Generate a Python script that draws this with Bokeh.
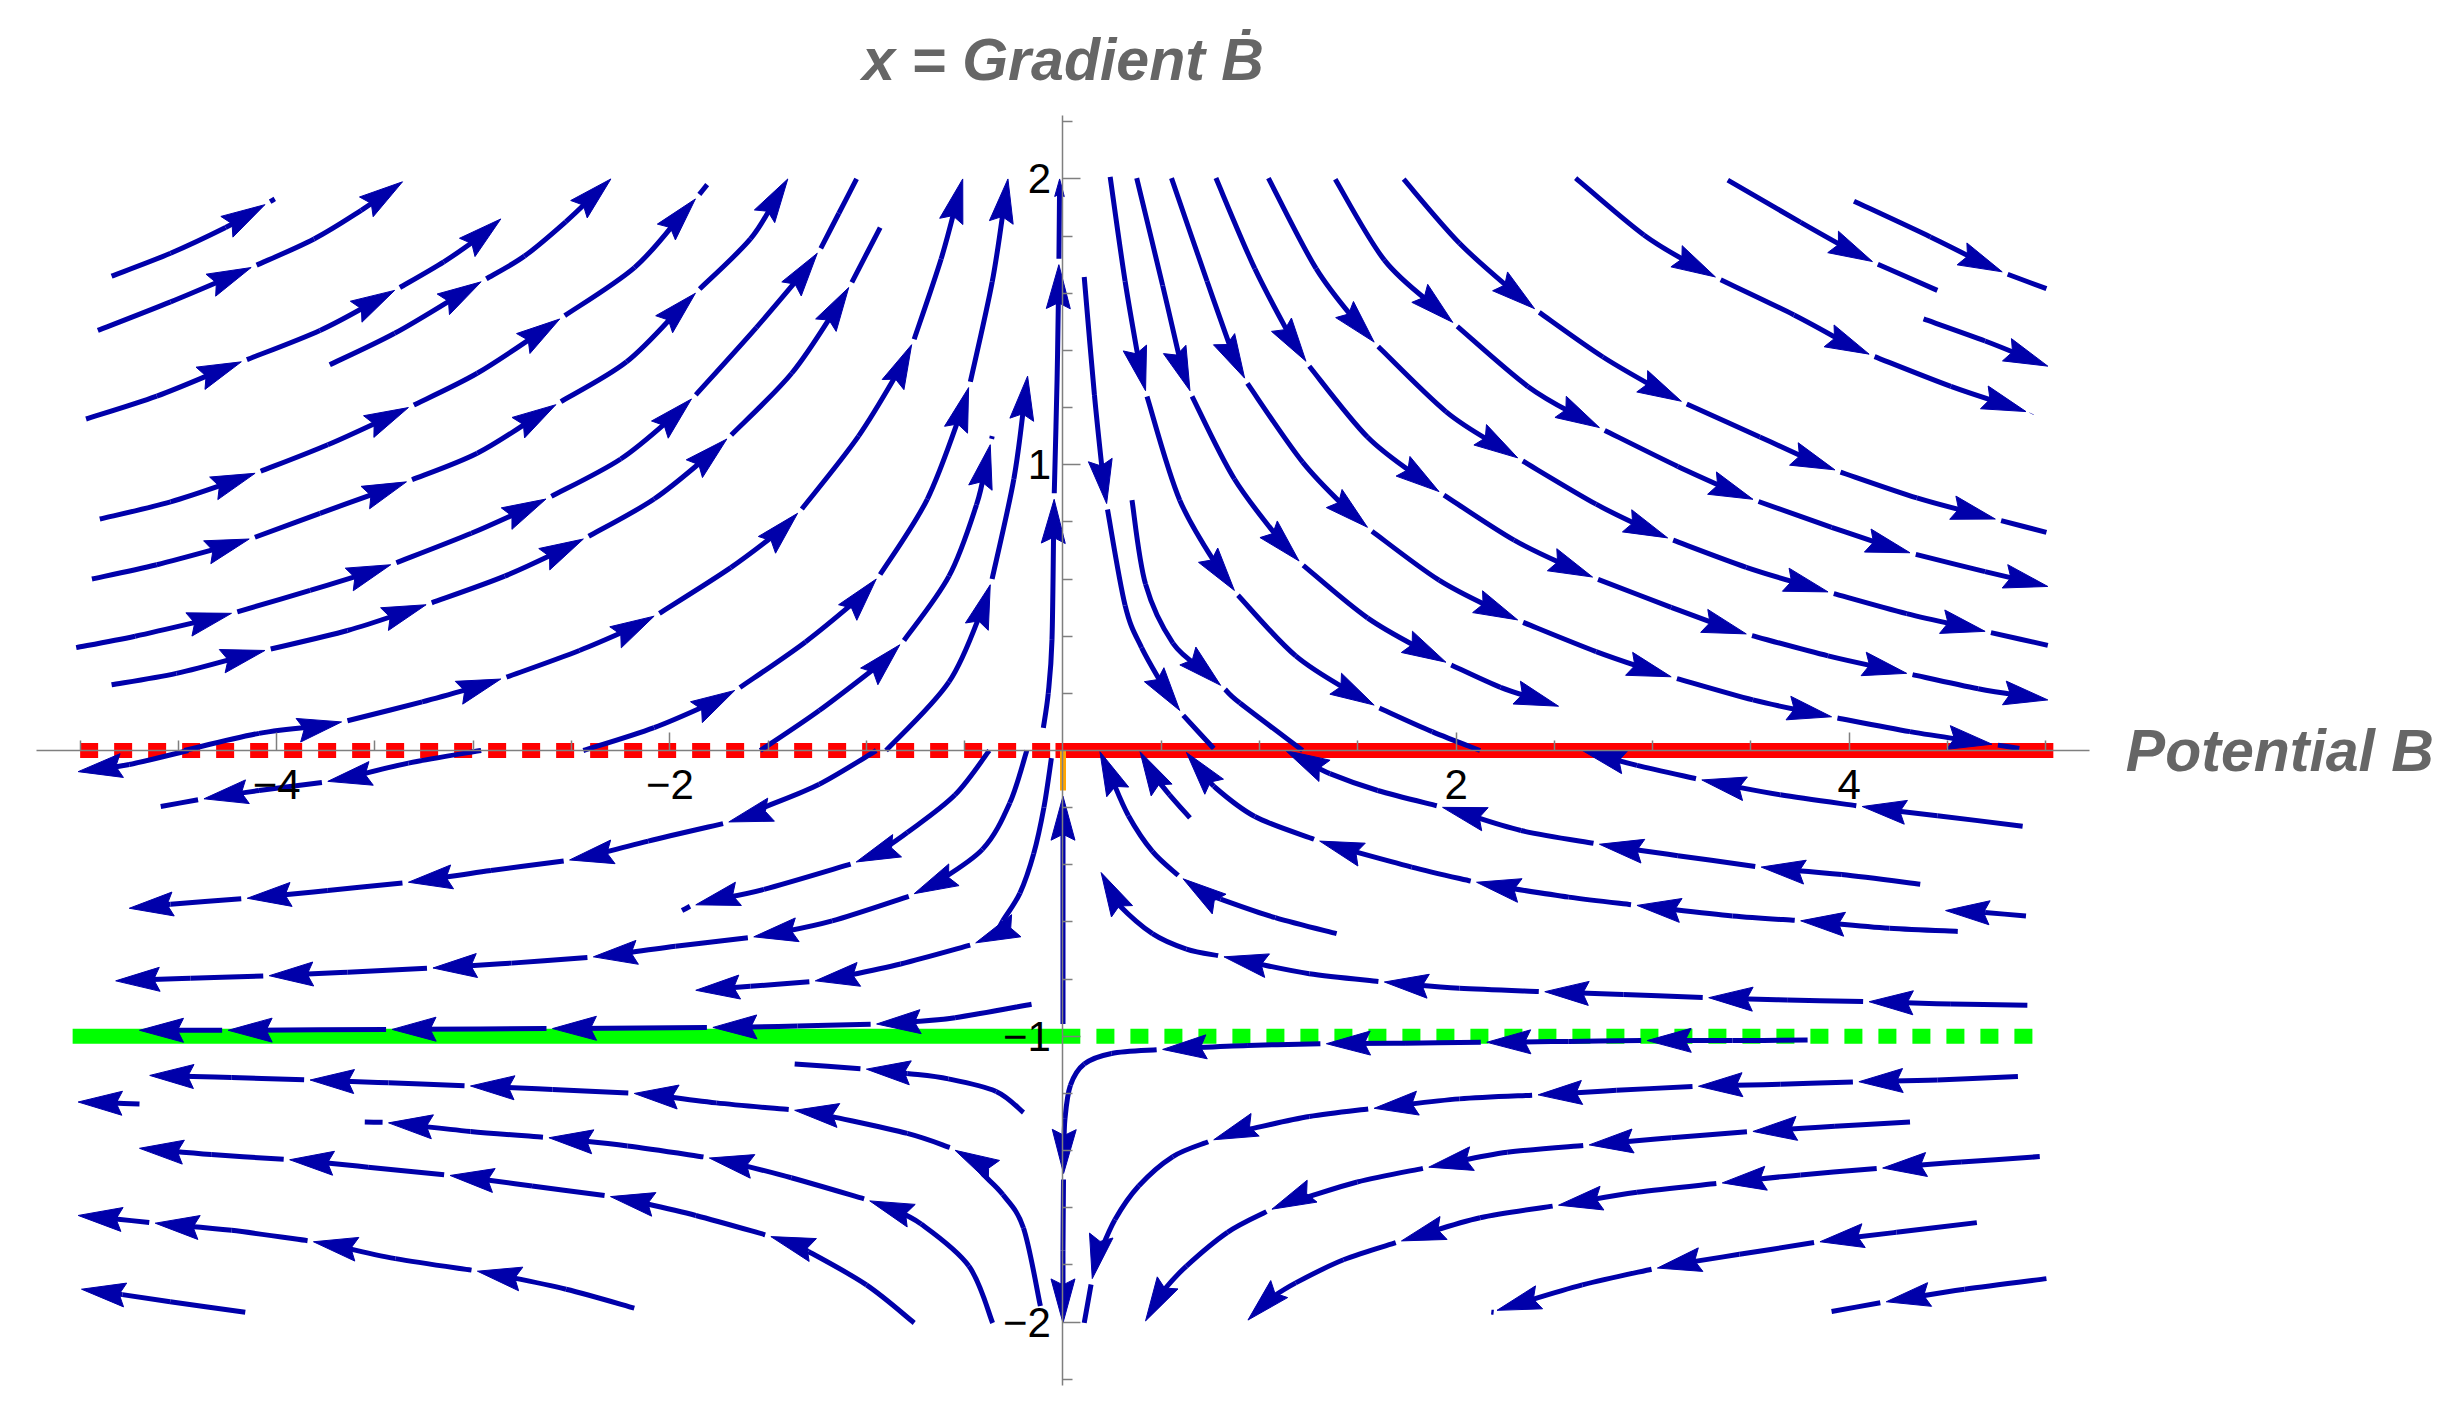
import math
from bokeh.plotting import figure
from bokeh.models import Range1d, FixedTicker, Label
from bokeh.embed import file_html
from bokeh.resources import INLINE

# ---------------- data ----------------
AXIS_B = (-5.222, 5.222)     # extent of the horizontal axis
AXIS_X = (-2.222, 2.222)     # extent of the vertical axis

x_major_ticks = [-4, -2, 2, 4]
x_major_labels = ["\u22124", "\u22122", "2", "4"]
x_minor_ticks = [-5, -4.5, -3.5, -3, -2.5, -1.5, -1, -0.5, 0.5, 1, 1.5, 2.5, 3, 3.5, 4.5, 5]
y_major_ticks = [-2, -1, 1, 2]
y_major_labels = ["\u22122", "\u22121", "1", "2"]
y_minor_ticks = [-2.2, -1.8, -1.6, -1.4, -1.2, -0.8, -0.6, -0.4, -0.2,
                 0.2, 0.4, 0.6, 0.8, 1.2, 1.4, 1.6, 1.8, 2.2]

title_text = "x = Gradient \u1E02"
xlabel_text = "Potential B"

red_level = 0.0
red_stable_B = [0.0, 5.0]
red_unstable_B = [-5.0, -0.02]
green_level = -1.0
green_stable_B = [-5.0, 0.05]
green_unstable_B = [0.17, 5.0]
orange_B = [0.0, 0.0]
orange_x = [0.0, -0.14]

# streamlines: (B, x, arrow) with arrow = relative arrowhead size at that vertex (0 = none)
stream_upper_left = [
    [(-4.84, 1.66, 0), (-4.54, 1.74, 0), (-4.26, 1.83, 0), (-4.06, 1.91, 1), (-4.01, 1.93, 0)],
    [(-4.91, 1.47, 0), (-4.54, 1.57, 0), (-4.13, 1.69, 1), (-3.81, 1.79, 0), (-3.57, 1.89, 0), (-3.36, 1.99, 1)],
    [(-4.97, 1.16, 0), (-4.61, 1.24, 0), (-4.18, 1.36, 1), (-3.78, 1.47, 0), (-3.40, 1.61, 1), (-3.15, 1.71, 0),
     (-2.98, 1.79, 0), (-2.86, 1.86, 1)],
    [(-3.73, 1.35, 0), (-3.40, 1.46, 0), (-2.96, 1.64, 1), (-2.74, 1.73, 0), (-2.53, 1.85, 0), (-2.30, 2.00, 1)],
    [(-4.90, 0.81, 0), (-4.54, 0.87, 0), (-4.11, 0.97, 1), (-3.74, 1.07, 0), (-3.33, 1.20, 1), (-2.98, 1.32, 0),
     (-2.56, 1.51, 1), (-2.18, 1.69, 0), (-1.87, 1.93, 1), (-1.81, 1.98, 0)],
    [(-4.94, 0.60, 0), (-4.61, 0.65, 0), (-4.14, 0.74, 1), (-3.78, 0.83, 0), (-3.34, 0.94, 1), (-2.98, 1.04, 0),
     (-2.58, 1.21, 1), (-2.22, 1.36, 0), (-1.87, 1.60, 1), (-1.59, 1.79, 0), (-1.40, 2.00, 1)],
    [(-5.02, 0.36, 0), (-4.72, 0.40, 0), (-4.23, 0.48, 1), (-3.83, 0.56, 0), (-3.42, 0.65, 1), (-3.01, 0.76, 0),
     (-2.63, 0.88, 1), (-2.25, 1.02, 0), (-1.89, 1.23, 1), (-1.56, 1.48, 0), (-1.25, 1.74, 1), (-1.14, 1.88, 0),
     (-1.05, 2.00, 0)],
    [(-4.84, 0.23, 0), (-4.51, 0.27, 0), (-4.06, 0.35, 1), (-3.64, 0.42, 0), (-3.24, 0.51, 1), (-2.84, 0.61, 0),
     (-2.44, 0.74, 1), (-2.08, 0.88, 0), (-1.71, 1.09, 1), (-1.38, 1.32, 0), (-1.09, 1.62, 1), (-0.93, 1.83, 0)],
    [(-4.47, 0.00, 0), (-4.09, 0.06, 0), (-3.67, 0.10, 1), (-3.26, 0.17, 0), (-2.86, 0.25, 1), (-2.46, 0.35, 0),
     (-2.08, 0.47, 1), (-1.69, 0.64, 0), (-1.35, 0.83, 1), (-1.04, 1.10, 0), (-0.77, 1.42, 1), (-0.62, 1.72, 0),
     (-0.51, 2.00, 1)],
    [(-2.44, 0.00, 0), (-2.08, 0.08, 0), (-1.67, 0.21, 1), (-1.31, 0.38, 0), (-0.95, 0.60, 1), (-0.69, 0.88, 0),
     (-0.48, 1.27, 1), (-0.36, 1.64, 0), (-0.28, 2.00, 1)],
    [(-1.54, 0.00, 0), (-1.24, 0.14, 0), (-0.83, 0.37, 1), (-0.58, 0.61, 0), (-0.44, 0.86, 0), (-0.37, 1.07, 1),
     (-0.36, 1.10, 0)],
    [(-0.90, 0.00, 0), (-0.58, 0.24, 0), (-0.37, 0.58, 1), (-0.25, 0.95, 0), (-0.18, 1.31, 1)],
]

stream_upper_right = [
    [(0.108, 1.657, 0), (0.160, 1.244, 0), (0.222, 0.864, 1), (0.316, 0.508, 0), (0.40, 0.36, 0),
     (0.594, 0.140, 1), (0.767, 0.007, 0)],
    [(0.351, 0.876, 0), (0.420, 0.582, 0), (0.559, 0.376, 0), (0.802, 0.228, 1), (0.90, 0.166, 0), (1.219, 0.0, 0)],
    [(0.240, 2.007, 0), (0.316, 1.642, 0), (0.420, 1.259, 1), (0.594, 0.876, 0), (0.872, 0.560, 1),
     (1.184, 0.331, 0), (1.583, 0.159, 1), (1.878, 0.066, 0), (2.122, 0.0, 0)],
    [(0.375, 2.003, 0), (0.507, 1.627, 0), (0.646, 1.259, 1), (0.872, 0.950, 0), (1.201, 0.663, 1),
     (1.549, 0.464, 0), (1.948, 0.309, 1), (2.226, 0.221, 0), (2.521, 0.155, 1)],
    [(0.552, 2.003, 0), (0.733, 1.642, 0), (0.924, 1.303, 1), (1.219, 1.009, 0), (1.549, 0.781, 1),
     (1.913, 0.596, 0), (2.313, 0.457, 1), (2.712, 0.346, 0), (3.094, 0.258, 1), (3.510, 0.177, 0),
     (3.910, 0.118, 1), (4.309, 0.066, 0), (4.726, 0.022, 1), (4.865, 0.007, 0)],
    [(0.778, 2.003, 0), (0.976, 1.686, 0), (1.236, 1.362, 1), (1.549, 1.097, 0), (1.913, 0.906, 1),
     (2.295, 0.736, 0), (2.694, 0.607, 1), (3.094, 0.501, 0), (3.476, 0.408, 1), (3.892, 0.331, 0),
     (4.292, 0.270, 1), (4.656, 0.216, 0), (5.010, 0.177, 1)],
    [(1.045, 2.003, 0), (1.288, 1.686, 0), (1.583, 1.429, 1), (1.948, 1.186, 0), (2.313, 1.024, 1),
     (2.712, 0.862, 0), (3.076, 0.744, 1), (3.476, 0.641, 0), (3.892, 0.555, 1), (4.292, 0.479, 0),
     (4.691, 0.417, 1), (5.010, 0.368, 0)],
    [(1.385, 1.999, 0), (1.635, 1.716, 0), (1.983, 1.498, 1), (2.365, 1.274, 0), (2.729, 1.130, 1),
     (3.128, 0.994, 0), (3.510, 0.879, 1), (3.910, 0.781, 0), (4.309, 0.692, 1), (4.691, 0.626, 0),
     (5.010, 0.574, 1)],
    [(1.733, 1.999, 0), (2.017, 1.775, 0), (2.399, 1.546, 1), (2.747, 1.377, 0), (3.146, 1.222, 1),
     (3.545, 1.097, 0), (3.927, 0.982, 1), (4.344, 0.884, 0), (4.743, 0.810, 1), (5.003, 0.763, 0)],
    [(2.608, 2.003, 0), (2.955, 1.804, 0), (3.319, 1.657, 1), (3.719, 1.524, 0), (4.101, 1.387, 1),
     (4.517, 1.274, 0), (4.899, 1.186, 1), (4.927, 1.178, 0)],
    [(3.382, 1.996, 0), (3.753, 1.848, 0), (4.118, 1.711, 1), (4.448, 1.610, 0)],
    [(4.024, 1.922, 0), (4.413, 1.797, 0), (4.778, 1.675, 1), (5.003, 1.616, 0)],
    [(4.378, 1.510, 0), (4.691, 1.433, 0), (5.010, 1.345, 1)],
]

stream_lower_left = [
    [(-4.45, 0.0, 0), (-4.75, -0.049, 0), (-5.01, -0.074, 1)],
    [(-2.96, 0.0, 0), (-3.33, -0.044, 0), (-3.74, -0.108, 1), (-4.09, -0.140, 0), (-4.37, -0.169, 1),
     (-4.59, -0.196, 0)],
    [(-0.95, 0.0, 0), (-1.24, -0.118, 0), (-1.52, -0.199, 0), (-1.70, -0.250, 1), (-2.11, -0.317, 0),
     (-2.51, -0.383, 1), (-2.91, -0.420, 0), (-3.33, -0.461, 1), (-3.74, -0.490, 0), (-4.15, -0.517, 1),
     (-4.54, -0.538, 0), (-4.75, -0.552, 1)],
    [(-0.375, 0.0, 0), (-0.549, -0.155, 0), (-0.792, -0.287, 0), (-1.052, -0.390, 1), (-1.521, -0.486, 0),
     (-1.868, -0.540, 1), (-1.938, -0.560, 0)],
    [(-0.184, 0.0, 0), (-0.271, -0.184, 0), (-0.410, -0.346, 0), (-0.757, -0.501, 1), (-1.174, -0.596, 0),
     (-1.573, -0.652, 1), (-1.972, -0.685, 0), (-2.389, -0.722, 1), (-2.806, -0.744, 0), (-3.205, -0.761, 1),
     (-3.639, -0.776, 0), (-4.038, -0.788, 1), (-4.438, -0.797, 0), (-4.819, -0.806, 1)],
    [(-0.059, -0.027, 0), (-0.097, -0.199, 0), (-0.149, -0.361, 0), (-0.219, -0.499, 0), (-0.306, -0.596, 0),
     (-0.444, -0.673, 1), (-0.826, -0.747, 0), (-1.260, -0.806, 1), (-1.590, -0.825, 0), (-1.868, -0.839, 1)],
    [(-0.160, -0.888, 0), (-0.549, -0.935, 0), (-0.948, -0.957, 1), (-1.35, -0.964, 0), (-1.781, -0.969, 1),
     (-2.597, -0.973, 1), (-3.413, -0.976, 1), (-4.247, -0.979, 1), (-4.698, -0.979, 1)],
    [(-0.201, -1.267, 0), (-0.340, -1.193, 0), (-0.583, -1.149, 0), (-0.792, -1.130, 0), (-1.0, -1.115, 1),
     (-1.365, -1.097, 0)],
    [(-0.115, -1.944, 0), (-0.201, -1.671, 0), (-0.306, -1.554, 0), (-0.410, -1.480, 0), (-0.549, -1.399, 1),
     (-0.792, -1.340, 0), (-1.174, -1.281, 0), (-1.365, -1.259, 1), (-1.764, -1.233, 0), (-2.181, -1.200, 1),
     (-2.597, -1.186, 0), (-3.014, -1.174, 1), (-3.431, -1.163, 0), (-3.830, -1.153, 1), (-4.229, -1.144, 0),
     (-4.646, -1.137, 1)],
    [(-0.358, -2.003, 0), (-0.479, -1.804, 0), (-0.722, -1.657, 0), (-0.983, -1.576, 1), (-1.382, -1.495, 0),
     (-1.799, -1.426, 1), (-2.215, -1.384, 0), (-2.615, -1.355, 1), (-3.014, -1.333, 0), (-3.431, -1.303, 1),
     (-3.552, -1.300, 0)],
    [(-0.757, -2.003, 0), (-1.0, -1.870, 0), (-1.295, -1.753, 0), (-1.486, -1.701, 1), (-1.868, -1.627, 0),
     (-2.302, -1.561, 1), (-2.701, -1.524, 0), (-3.118, -1.487, 1), (-3.535, -1.458, 0), (-3.934, -1.432, 1),
     (-4.333, -1.414, 0), (-4.698, -1.392, 1)],
    [(-2.181, -1.951, 0), (-2.528, -1.885, 0), (-2.979, -1.822, 1), (-3.396, -1.778, 0), (-3.813, -1.719, 1),
     (-4.229, -1.679, 0), (-4.618, -1.654, 1), (-4.819, -1.639, 0), (-5.010, -1.627, 1)],
    [(-4.160, -1.966, 0), (-4.542, -1.929, 0), (-4.785, -1.904, 0), (-4.993, -1.885, 1)],
    [(-4.698, -1.237, 0), (-4.854, -1.233, 0), (-5.010, -1.230, 1)],
]

stream_lower_right = [
    [(4.882, -0.265, 0), (4.448, -0.228, 0), (4.066, -0.196, 1), (3.649, -0.155, 0), (3.250, -0.103, 1),
     (2.920, -0.052, 0), (2.642, 0.0, 1)],
    [(4.361, -0.468, 0), (3.962, -0.434, 0), (3.552, -0.408, 1), (3.128, -0.368, 0), (2.729, -0.328, 1),
     (2.330, -0.280, 0), (1.931, -0.199, 1), (1.601, -0.140, 0), (1.358, -0.081, 0), (1.132, 0.0, 1)],
    [(1.392, -0.641, 0), (1.080, -0.585, 0), (0.802, -0.520, 0), (0.611, -0.449, 1), (0.455, -0.353, 0),
     (0.333, -0.228, 0), (0.247, -0.096, 0), (0.188, -0.004, 1)],
    [(0.646, -0.236, 0), (0.542, -0.155, 0), (0.455, -0.081, 0), (0.392, -0.004, 1)],
    [(4.552, -0.633, 0), (4.205, -0.622, 0), (3.753, -0.596, 1), (3.406, -0.579, 0), (2.920, -0.542, 1),
     (2.573, -0.513, 0), (2.104, -0.461, 1), (1.774, -0.408, 0), (1.306, -0.317, 1), (0.976, -0.231, 0),
     (0.767, -0.125, 0), (0.628, -0.007, 1)],
    [(4.899, -0.579, 0), (4.691, -0.567, 0), (4.490, -0.560, 1)],
    [(4.906, -0.891, 0), (4.517, -0.887, 0), (4.101, -0.879, 1), (3.684, -0.873, 0), (3.285, -0.865, 1),
     (2.851, -0.854, 0), (2.451, -0.844, 1), (2.017, -0.832, 0), (1.635, -0.810, 1), (1.253, -0.781, 0),
     (0.976, -0.744, 0), (0.819, -0.722, 1), (0.628, -0.695, 0), (0.455, -0.641, 0), (0.281, -0.538, 0),
     (0.194, -0.427, 1)],
    [(3.788, -1.013, 0), (3.406, -1.015, 0), (2.972, -1.015, 1), (2.573, -1.018, 0), (2.156, -1.021, 1),
     (1.740, -1.024, 0), (1.340, -1.026, 1), (0.941, -1.032, 0), (0.507, -1.046, 1), (0.247, -1.060, 0),
     (0.108, -1.097, 0), (0.038, -1.171, 0), (0.010, -1.289, 0), (0.003, -1.480, 1), (0.0, -1.75, 0),
     (0.0, -2.003, 1)],
    [(4.858, -1.141, 0), (4.448, -1.153, 0), (4.049, -1.159, 1), (3.649, -1.168, 0), (3.233, -1.175, 1),
     (2.816, -1.189, 0), (2.417, -1.205, 1), (2.017, -1.219, 0), (1.583, -1.252, 1), (1.253, -1.281, 0),
     (0.941, -1.326, 0), (0.767, -1.362, 1), (0.559, -1.421, 0), (0.385, -1.524, 0), (0.264, -1.642, 0),
     (0.177, -1.775, 0), (0.149, -1.848, 1), (0.108, -2.003, 0)],
    [(4.309, -1.300, 0), (3.927, -1.315, 0), (3.510, -1.333, 1), (3.094, -1.355, 0), (2.677, -1.380, 1),
     (2.260, -1.406, 0), (1.861, -1.458, 1), (1.497, -1.510, 0), (1.219, -1.568, 0), (1.063, -1.605, 1),
     (0.837, -1.686, 0), (0.628, -1.804, 0), (0.507, -1.893, 0), (0.420, -1.996, 1)],
    [(4.969, -1.421, 0), (4.569, -1.440, 0), (4.170, -1.461, 1), (3.753, -1.485, 0), (3.354, -1.513, 1),
     (2.920, -1.546, 0), (2.521, -1.591, 1), (2.122, -1.635, 0), (1.722, -1.716, 1), (1.427, -1.782, 0),
     (1.184, -1.863, 0), (1.045, -1.922, 0), (0.941, -1.993, 1)],
    [(4.649, -1.652, 0), (4.240, -1.686, 0), (3.851, -1.719, 1), (3.441, -1.763, 0), (3.024, -1.811, 1),
     (2.642, -1.870, 0), (2.208, -1.959, 1), (2.191, -1.966, 0)],
    [(5.003, -1.848, 0), (4.587, -1.885, 0), (4.188, -1.929, 1), (3.910, -1.963, 0)],
]

stream_axis = [
    [(-0.100, 0.079, 0), (-0.075, 0.20, 0), (-0.056, 0.387, 0), (-0.045, 0.879, 1), (-0.030, 1.30, 0),
     (-0.021, 1.700, 1), (-0.017, 2.0, 0.4)],
    [(0.0, -0.957, 0), (0.0, -0.160, 1)],
]

# ---------------- layout ----------------
BLUE = "#0000AA"
W_PX, H_PX = 2440, 1405            # figure = frame, page origin at top-left
SX, SY = 196.57, 285.78           # pixels per data unit
LEFT_PX, TOP_PX = 36.0, 115.0      # where the axis extents start on the page
x0 = AXIS_B[0] - LEFT_PX / SX
x1 = x0 + W_PX / SX
y1 = AXIS_X[1] + TOP_PX / SY
y0 = y1 - H_PX / SY
HEAD_LEN, HEAD_HALF, HEAD_NOTCH, GAP = 44.0, 12.0, 6.0, 6.0

p = figure(frame_width=W_PX, frame_height=H_PX,
           x_range=Range1d(x0, x1), y_range=Range1d(y0, y1),
           output_backend="svg", toolbar_location=None, min_border=0)
p.grid.visible = False
p.outline_line_color = None
p.background_fill_color = "white"
p.border_fill_color = "white"

AX_COLOR = "#7f7f7f"
xa = p.xaxis[0]
ya = p.yaxis[0]
xa.fixed_location = 0
ya.fixed_location = 0
xa.bounds = AXIS_B
ya.bounds = AXIS_X
xa.ticker = FixedTicker(ticks=x_major_ticks, minor_ticks=x_minor_ticks)
ya.ticker = FixedTicker(ticks=y_major_ticks, minor_ticks=y_minor_ticks)
xa.major_label_overrides = {t: l for t, l in zip(x_major_ticks, x_major_labels)}
ya.major_label_overrides = {t: l for t, l in zip(y_major_ticks, y_major_labels)}
for ax in (xa, ya):
    ax.axis_line_color = AX_COLOR
    ax.axis_line_width = 1.5
    ax.major_tick_line_color = AX_COLOR
    ax.minor_tick_line_color = AX_COLOR
    ax.major_tick_line_width = 1.5
    ax.minor_tick_line_width = 1.5
    ax.major_tick_in = 18
    ax.major_tick_out = 0
    ax.minor_tick_in = 10
    ax.minor_tick_out = 0
    ax.major_label_text_font = "Liberation Sans"
    ax.major_label_text_font_size = "42px"
    ax.major_label_text_color = "black"
xa.major_label_standoff = 19
ya.major_label_standoff = 12

# fixed-point lines
p.line(red_unstable_B, [red_level] * 2, line_color="#ff0000", line_width=15, line_dash="18 16")
p.line(red_stable_B, [red_level] * 2, line_color="#ff0000", line_width=15, line_cap="square")
p.line(green_stable_B, [green_level] * 2, line_color="#00ff00", line_width=15, line_cap="square")
p.line(green_unstable_B, [green_level] * 2, line_color="#00ff00", line_width=15, line_dash="18 16")


def unit(dB, dx):
    px, py = dB * SX, dx * SY
    n = math.hypot(px, py) or 1.0
    return px / n, py / n


def move(pt, ux, uy, dist):
    return (pt[0] + ux * dist / SX, pt[1] + uy * dist / SY)


seg = {k: [] for k in ("x0", "y0", "x1", "y1", "cx0", "cy0", "cx1", "cy1")}
head_xs, head_ys = [], []


def flush(cur):
    # draw a piece through its points as a smooth (Catmull-Rom) chain of Bezier curves
    n = len(cur)
    if n < 2:
        return
    for k in range(n - 1):
        pa = cur[k - 1] if k > 0 else cur[k]
        pb, pc = cur[k], cur[k + 1]
        pd = cur[k + 2] if k + 2 < n else cur[k + 1]
        seg["x0"].append(pb[0]); seg["y0"].append(pb[1])
        seg["x1"].append(pc[0]); seg["y1"].append(pc[1])
        seg["cx0"].append(pb[0] + (pc[0] - pa[0]) / 6.0); seg["cy0"].append(pb[1] + (pc[1] - pa[1]) / 6.0)
        seg["cx1"].append(pc[0] - (pd[0] - pb[0]) / 6.0); seg["cy1"].append(pc[1] - (pd[1] - pb[1]) / 6.0)


for group in (stream_upper_left, stream_upper_right, stream_lower_left, stream_lower_right, stream_axis):
    for stream in group:
        pts = [(b, x) for b, x, _ in stream]
        flags = [f for _, _, f in stream]
        n = len(pts)
        cur = [pts[0]]
        for i in range(1, n):
            if flags[i]:
                a = pts[i - 1]
                c = pts[i + 1] if i + 1 < n else pts[i]
                ux, uy = unit(c[0] - a[0], c[1] - a[1])
                s = flags[i]
                L, Wd, N = HEAD_LEN * s, HEAD_HALF * s, HEAD_NOTCH * s
                tip = pts[i]
                back = move(tip, ux, uy, -L)
                left = (back[0] - uy * Wd / SX, back[1] + ux * Wd / SY)
                right = (back[0] + uy * Wd / SX, back[1] - ux * Wd / SY)
                notch = move(tip, ux, uy, -(L - N))
                head_xs.append([tip[0], left[0], notch[0], right[0]])
                head_ys.append([tip[1], left[1], notch[1], right[1]])
                cur.append(move(tip, ux, uy, -0.5 * L))
                flush(cur)
                cur = [move(tip, ux, uy, GAP)] if i + 1 < n else []
            else:
                cur.append(pts[i])
        flush(cur)

p.bezier(x0="x0", y0="y0", x1="x1", y1="y1", cx0="cx0", cy0="cy0", cx1="cx1", cy1="cy1",
         source=seg, line_color=BLUE, line_width=5)
p.patches(head_xs, head_ys, fill_color=BLUE, line_color=BLUE, line_width=1)
p.line(orange_B, orange_x, line_color="#ffa500", line_width=6)

title_y = AXIS_X[1] + (115.0 - 79.0 + 20.0) / SY
p.add_layout(Label(x=0, y=title_y, text=title_text, text_align="center", text_baseline="alphabetic",
                   text_font="Liberation Sans", text_font_style="bold italic", text_font_size="59px",
                   text_color="#666666"))
p.add_layout(Label(x=5.407, y=-0.072 + 20.0 / SY, text=xlabel_text, text_align="left",
                   text_baseline="alphabetic",
                   text_font="Liberation Sans", text_font_style="bold italic", text_font_size="59px",
                   text_color="#666666"))

open("out.html", "w").write(file_html(p, INLINE))
